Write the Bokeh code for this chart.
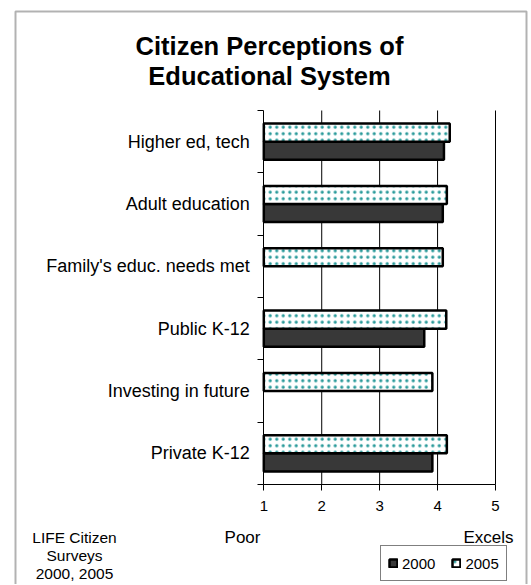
from bokeh.plotting import figure
from bokeh.models import (ColumnDataSource, Range1d, FixedTicker, Label, Legend,
                          LegendItem, BoxAnnotation)
from bokeh.transform import dodge
from bokeh.embed import file_html
from bokeh.resources import INLINE

# ---------------- data ----------------
categories = ["Higher ed, tech", "Adult education", "Family's educ. needs met",
              "Public K-12", "Investing in future", "Private K-12"]
v2000 = [4.11, 4.09, float("nan"), 3.77, float("nan"), 3.91]
v2005 = [4.21, 4.16, 4.09, 4.15, 3.91, 4.16]
x_ticks = [1, 2, 3, 4, 5]
series_names = ["2000", "2005"]
title_lines = ["Citizen Perceptions of", "Educational System"]
scale_ends = ["Poor", "Excels"]
source_lines = ["LIFE Citizen", "Surveys", "2000, 2005"]

FONT = "Liberation Sans"
W, H = 530, 584

# page layout of the plotting area (pixels)
PX_LEFT, PX_RIGHT, PX_TOP, PX_BOTTOM = 263.3, 495.0, 110.0, 484.0

n = len(categories)
centers = [n - 0.5 - i for i in range(n)]
source = ColumnDataSource(dict(cat=categories, y=centers, v2000=v2000, v2005=v2005))

xs = (PX_RIGHT - PX_LEFT) / (x_ticks[-1] - x_ticks[0])
ys = (PX_BOTTOM - PX_TOP) / n
x_range = Range1d(x_ticks[0] - PX_LEFT / xs, x_ticks[-1] + (W - PX_RIGHT) / xs)
y_range = Range1d(-(H - PX_BOTTOM) / ys, n + PX_TOP / ys)

p = figure(width=W, height=H, output_backend="svg", toolbar_location=None,
           x_range=x_range, y_range=y_range,
           min_border_left=0, min_border_right=0, min_border_top=0,
           min_border_bottom=0)
p.outline_line_color = None
p.background_fill_color = "white"
p.border_fill_color = "white"
p.xgrid.grid_line_color = None
p.ygrid.grid_line_color = None

# vertical grid lines at value ticks
p.segment(x0=x_ticks[1:], x1=x_ticks[1:], y0=0, y1=n, line_color="black", line_width=1)

# bars
r2000 = p.hbar(y=dodge("y", -0.145), left=x_ticks[0], right="v2000", height=0.29,
               source=source, fill_color="#383838", line_color="black", line_width=2.5)
r2005 = p.hbar(y=dodge("y", 0.145), left=x_ticks[0], right="v2005", height=0.29,
               source=source, fill_color="white", hatch_pattern="dot",
               hatch_color="#2a9a9a", hatch_scale=6.5, hatch_weight=2,
               line_color="black", line_width=2.5)

# x axis
xa = p.xaxis[0]
xa.fixed_location = 0
xa.bounds = (x_ticks[0], x_ticks[-1])
xa.ticker = FixedTicker(ticks=x_ticks)
xa.major_tick_out = 6
xa.major_tick_in = 0
xa.minor_tick_out = 0
xa.minor_tick_in = 0
xa.axis_line_color = "black"
xa.major_tick_line_color = "black"
xa.major_label_text_font = FONT
xa.major_label_text_font_size = "15px"
xa.major_label_text_color = "black"
xa.major_label_standoff = 10

# y axis: labels at category centers, minor ticks at category boundaries
ya = p.yaxis[0]
ya.fixed_location = x_ticks[0]
ya.bounds = (0, n)
ya.ticker = FixedTicker(ticks=centers, minor_ticks=list(range(n + 1)))
ya.major_label_overrides = {c: lab for c, lab in zip(centers, categories)}
ya.major_tick_out = 0
ya.major_tick_in = 0
ya.minor_tick_out = 6
ya.minor_tick_in = 0
ya.minor_tick_line_color = "black"
ya.axis_line_color = "black"
ya.major_label_text_font = FONT
ya.major_label_text_font_size = "18px"
ya.major_label_text_color = "black"
ya.major_label_standoff = 8

# outer chart border
p.add_layout(BoxAnnotation(left=15, right=526, top=H - 11, bottom=-10,
                           left_units="screen", right_units="screen",
                           top_units="screen", bottom_units="screen",
                           fill_alpha=0, line_color="black", line_width=2))

# title
for i, t in enumerate(title_lines):
    p.add_layout(Label(x=269, y=H - 45 - 30 * i, x_units="screen", y_units="screen",
                       text=t, text_align="center", text_baseline="middle",
                       text_font=FONT, text_font_style="bold",
                       text_font_size="25.5px", text_color="black"))

# scale ends
p.add_layout(Label(x=242, y=H - 537, x_units="screen", y_units="screen", text=scale_ends[0],
                   text_align="center", text_baseline="alphabetic", text_font=FONT,
                   text_font_size="17px", text_color="black"))
p.add_layout(Label(x=513, y=H - 537, x_units="screen", y_units="screen", text=scale_ends[1],
                   text_align="right", text_baseline="alphabetic", text_font=FONT,
                   text_font_size="17px", text_color="black"))

# source note
for i, t in enumerate(source_lines):
    p.add_layout(Label(x=74, y=H - 537 - 18 * i, x_units="screen", y_units="screen",
                       text=t, text_align="center", text_baseline="alphabetic",
                       text_font=FONT, text_font_size="15.5px", text_color="black"))

# legend (location = bottom-left corner, screen units)
legend = Legend(items=[LegendItem(label=series_names[0], renderers=[r2000]),
                       LegendItem(label=series_names[1], renderers=[r2005])],
                location=(380, H - 581), orientation="horizontal",
                border_line_color="black", border_line_width=1,
                background_fill_color="white", background_fill_alpha=1,
                padding=7, spacing=16, margin=0, glyph_width=10, glyph_height=10,
                label_standoff=4, label_text_font=FONT, label_text_font_size="15px",
                label_text_color="black", label_height=20)
p.add_layout(legend, "center")

open("out.html", "w").write(file_html(p, INLINE))
